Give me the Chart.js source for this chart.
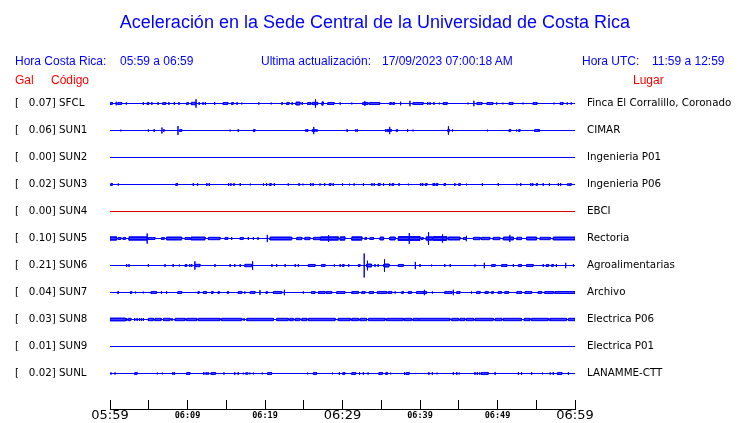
<!DOCTYPE html>
<html>
<head>
<meta charset="utf-8">
<script src="https://cdn.jsdelivr.net/npm/chart.js@4.4.0/dist/chart.umd.min.js"></script>
<style>
  body { margin: 0; background: #fff; }
  #page { position: relative; width: 740px; height: 423px; overflow: hidden; font-family: 'Liberation Sans', Arial, sans-serif; }
  #page canvas, .t { position: absolute; }
  .t { white-space: pre; font-size: 12px; line-height: 14px; color: #0000ff; }
  .red { color: #ff0000; }
  #title { font-size: 18px; line-height: 20px; left: 0; width: 750px; text-align: center; top: 12px; }
</style>
</head>
<body>
<div id="page">
  <canvas id="traces" width="740" height="423"></canvas>
  <canvas id="axis" width="740" height="33" style="top:390px;left:0"></canvas>
  <div class="t" id="title">Aceleración en la Sede Central de la Universidad de Costa Rica</div>
  <div class="t" style="left:15px;top:54px">Hora Costa Rica:</div>
  <div class="t" style="left:120px;top:54px">05:59 a 06:59</div>
  <div class="t" style="left:261px;top:54px">Ultima actualización:</div>
  <div class="t" style="left:382px;top:54px">17/09/2023 07:00:18 AM</div>
  <div class="t" style="left:582px;top:54px">Hora UTC:</div>
  <div class="t" style="left:652px;top:54px">11:59 a 12:59</div>
  <div class="t red" style="left:15px;top:73px">Gal</div>
  <div class="t red" style="left:51px;top:73px">Código</div>
  <div class="t red" style="left:633px;top:73px">Lugar</div>
</div>
<script>
// estaciones, de arriba hacia abajo
const CODES = ['SFCL', 'SUN1', 'SUN2', 'SUN3', 'SUN4', 'SUN5', 'SUN6', 'SUN7', 'SUN8', 'SUN9', 'SUNL'];
const GAL = [0.07, 0.06, 0.00, 0.02, 0.00, 0.10, 0.21, 0.04, 0.03, 0.01, 0.02];
const PLACES = ['Finca El Corralillo, Coronado', 'CIMAR', 'Ingenieria P01', 'Ingenieria P06', 'EBCI',
  'Rectoria', 'Agroalimentarias', 'Archivo', 'Electrica P06', 'Electrica P01', 'LANAMME-CTT'];
const TICK_LABELS = ['05:59', '', '06:09', '', '06:19', '', '06:29', '', '06:39', '', '06:49', '', '06:59'];

// episodios de vibracion: [minuto inicio, minuto fin, amplitud en Gal]
const SFCL_EV = [[0,0.3,.017],[0.8,0.8,.03],[1.0,1.5,.017],[2.1,2.1,.02],[4.3,4.3,.025],[4.8,5.0,.017],[5.4,5.4,.025],
  [6.2,6.2,.025],[6.8,7.2,.015],[7.6,7.6,.025],[8.3,8.3,.025],[8.9,8.9,.025],[9.9,10.1,.017],[10.5,11.05,.02],[11.1,11.1,.07],
  [11.5,11.5,.025],[12.0,12.0,.025],[12.3,12.3,.025],[13.5,13.5,.025],[14.6,15.2,.017],[15.7,15.9,.017],[16.4,16.4,.025],
  [17.0,17.0,.015],[19.2,19.2,.02],[20.8,20.8,.015],[22.2,22.2,.025],[22.8,23.1,.017],[23.5,23.5,.025],[24.0,24.5,.025],
  [24.8,24.8,.025],[25.5,25.9,.017],[26.1,26.45,.02],[26.5,26.5,.07],[26.55,26.8,.02],[27.35,27.5,.028],[28.1,28.9,.017],
  [29.7,29.7,.02],[31.2,31.2,.015],[32.6,32.85,.017],[32.9,32.9,.04],[32.95,33.3,.017],[33.5,34.8,.017],[36.1,36.3,.017],
  [36.5,36.7,.017],[37.5,37.5,.03],[38.7,38.7,.045],[39.1,40.4,.017],[41.0,41.0,.025],[41.3,41.3,.025],[41.8,41.8,.025],
  [42.5,42.5,.015],[43.0,43.5,.017],[46.2,46.2,.015],[46.95,46.95,.045],[47.35,48.0,.017],[48.65,49.4,.017],[49.9,49.9,.02],
  [50.7,50.7,.015],[51.5,52.0,.017],[53.3,53.3,.015],[54.6,55.1,.017],[57.3,57.3,.015],[58.1,58.45,.017],[59.0,59.0,.02],
  [59.5,59.5,.02]];
const SUN1_EV = [[1.4,1.4,.015],[4.95,4.95,.02],[5.7,5.7,.025],[6.7,6.7,.05],[6.9,7.0,.015],[8.77,8.77,.075],[9.0,9.25,.017],
  [15.5,15.5,.015],[16.55,16.55,.025],[18.5,18.7,.017],[25.3,25.3,.025],[25.5,25.5,.025],[26.1,26.25,.017],[26.3,26.3,.06],
  [26.35,26.5,.017],[26.7,26.7,.025],[30.6,30.6,.025],[31.7,31.7,.02],[31.9,31.9,.025],[35.6,35.6,.025],[35.8,35.8,.025],
  [35.9,36.05,.017],[36.1,36.1,.06],[36.15,36.3,.017],[36.95,37.1,.017],[38.4,38.4,.025],[39.1,39.1,.015],[43.5,43.6,.017],
  [43.65,43.65,.07],[43.7,43.8,.02],[44.2,44.2,.02],[48.7,48.7,.015],[51.5,51.7,.017],[52.4,52.5,.017],[52.75,52.9,.017],
  [54.8,55.3,.017],[55.4,55.4,.02]];
const SUN2_EV = [];
const SUN3_EV = [[0.1,0.3,.017],[1.07,1.07,.02],[8.5,8.7,.017],[10.75,10.75,.025],[11.3,11.3,.025],[12.5,12.5,.025],
  [12.8,12.8,.025],[15.3,15.3,.025],[15.6,15.6,.025],[16.0,16.0,.025],[16.8,16.8,.025],[18.1,18.1,.015],[19.8,19.8,.02],
  [20.2,20.2,.025],[20.6,20.8,.017],[21.2,21.2,.025],[23.0,23.0,.02],[24.4,24.4,.025],[24.9,24.9,.015],[25.9,25.9,.025],
  [26.2,26.2,.025],[27.1,27.1,.02],[27.7,27.7,.025],[28.3,28.5,.017],[28.8,28.8,.025],[30.0,30.0,.025],[30.9,30.9,.015],
  [31.5,31.5,.02],[32.7,32.7,.025],[33.8,33.8,.025],[34.1,34.1,.025],[34.6,34.85,.017],[35.3,35.3,.025],[36.1,36.1,.025],
  [36.4,36.6,.017],[37.3,37.3,.025],[38.5,38.5,.015],[40.1,40.1,.025],[40.35,40.35,.025],[40.7,40.9,.017],[41.7,41.7,.025],
  [41.9,41.9,.025],[42.1,42.3,.017],[43.1,43.3,.017],[44.5,44.5,.025],[45.0,45.2,.017],[46.0,46.0,.015],[48.05,48.05,.025],
  [50.1,50.1,.025],[52.5,52.5,.015],[53.0,53.0,.025],[54.3,54.3,.025],[54.55,54.55,.025],[55.0,55.15,.017],[55.9,55.9,.025],
  [56.7,56.7,.025],[57.85,57.85,.025],[58.15,58.15,.025],[59.1,59.1,.025],[59.3,59.5,.017]];
const SUN4_EV = [];
const SUN5_EV = [[0,0.85,.028],[1.05,1.4,.017],[1.7,2.0,.017],[2.45,4.75,.028],[4.8,4.8,.085],[4.95,5.8,.017],[6.65,7.0,.017],
  [7.3,9.25,.025],[9.7,10.3,.017],[10.45,12.25,.025],[12.7,14.2,.02],[14.85,15.2,.017],[15.7,15.7,.025],[16.8,17.2,.017],
  [17.85,17.85,.025],[18.5,18.5,.025],[19.1,19.1,.025],[20.3,20.3,.06],[20.65,23.45,.025],[24.1,24.75,.02],[25.15,25.8,.02],
  [26.25,27.1,.02],[27.2,28.15,.028],[28.2,28.2,.055],[28.25,29.45,.028],[29.7,30.3,.028],[31.2,32.5,.028],[32.9,33.1,.017],
  [33.55,34.0,.017],[34.85,35.3,.025],[36.1,36.8,.025],[37.2,38.55,.032],[38.6,38.6,.09],[38.65,40.0,.032],[40.2,40.4,.017],
  [40.8,41.05,.028],[41.1,41.1,.105],[41.15,41.6,.028],[41.7,42.85,.032],[42.9,42.9,.07],[42.95,43.45,.032],[43.65,45.15,.025],
  [45.6,45.95,.017],[46.0,46.0,.045],[46.9,47.75,.02],[47.95,49.0,.02],[49.45,50.3,.02],[50.75,51.55,.025],[51.6,51.6,.06],
  [51.65,52.05,.025],[52.5,53.1,.02],[53.75,55.05,.025],[55.5,56.8,.02],[57.2,60,.025]];
const SUN6_EV = [[2.15,2.15,.025],[2.45,2.45,.025],[4.95,4.95,.025],[7.1,7.1,.025],[8.15,8.15,.025],[8.95,8.95,.015],
  [9.7,9.9,.017],[10.3,10.3,.025],[10.55,10.55,.025],[10.95,10.95,.07],[11.0,11.6,.02],[13.55,13.55,.025],[15.5,15.5,.025],
  [16.1,16.1,.025],[16.8,16.8,.025],[17.4,18.3,.02],[18.4,18.4,.07],[20.9,20.9,.025],[21.5,21.5,.025],[22.6,22.6,.025],
  [23.9,23.9,.025],[24.3,24.3,.025],[25.6,26.45,.017],[27.3,27.75,.017],[28.95,28.95,.02],[29.7,29.7,.025],[30.0,30.2,.017],
  [30.8,30.8,.025],[32.05,32.25,.017],[32.8,32.8,.2],[33.05,33.15,.025],[33.2,33.2,.08],[33.25,33.75,.025],[34.2,34.2,.025],
  [34.6,34.6,.025],[35.3,35.35,.025],[35.4,35.4,.105],[35.45,36.0,.025],[37.2,37.85,.017],[39.4,39.4,.06],[40.0,40.0,.025],
  [41.5,41.5,.015],[43.2,43.2,.025],[43.9,43.9,.025],[47.1,47.1,.02],[48.3,48.3,.045],[49.25,49.7,.017],[50.55,51.2,.017],
  [52.05,52.05,.025],[52.7,53.1,.017],[53.75,54.6,.017],[55.9,55.9,.025],[56.3,56.6,.017],[57.0,57.2,.017],[57.6,57.6,.025],
  [58.8,58.8,.045],[59.8,59.8,.025]];
const SUN7_EV = [[1.0,1.1,.017],[2.65,2.8,.017],[3.3,3.3,.015],[4.3,4.3,.015],[5.3,6.0,.017],[6.65,6.65,.025],[7.3,7.3,.025],
  [8.75,9.25,.017],[11.35,11.5,.017],[12.05,12.45,.017],[13.1,13.3,.017],[13.95,14.1,.017],[15.15,15.3,.017],[16.55,17.0,.017],
  [17.4,17.4,.02],[18.1,18.7,.017],[19.35,19.35,.04],[20.15,20.3,.017],[21.1,22.15,.017],[22.5,22.5,.045],[24.95,24.95,.02],
  [26.0,26.45,.017],[26.9,27.75,.017],[27.95,28.6,.017],[29.25,30.3,.017],[31.2,32.05,.017],[32.5,32.9,.017],[33.45,34.0,.017],
  [34.5,35.7,.017],[35.9,36.35,.017],[36.8,36.8,.02],[37.65,37.85,.017],[38.5,38.9,.017],[39.55,40.5,.017],[40.55,40.55,.045],
  [40.6,40.85,.017],[41.6,41.6,.02],[43.2,44.1,.017],[44.3,44.3,.045],[44.75,45.15,.017],[46.65,46.65,.02],[47.3,47.75,.017],
  [48.4,48.8,.017],[49.25,49.45,.017],[50.1,50.5,.017],[50.95,51.4,.017],[52.5,53.1,.017],[53.55,54.4,.017],[55.25,55.7,.017],
  [56.1,57.2,.017],[57.4,60,.017]];
const SUN8_EV = [[0,2.0,.024],[2.15,2.15,.025],[2.35,2.7,.02],[3.2,3.2,.025],[3.5,3.5,.025],[3.8,3.8,.025],[4.05,4.05,.025],
  [4.3,4.3,.025],[4.95,5.6,.02],[5.8,6.6,.02],[6.9,7.75,.02],[8.0,8.0,.025],[8.4,9.7,.02],[9.9,11.2,.02],[11.4,14.2,.02],
  [14.4,17.0,.02],[17.3,17.3,.025],[17.65,21.1,.02],[21.5,23.0,.02],[23.2,23.65,.02],[23.9,24.5,.02],[24.75,25.4,.02],
  [25.6,29.05,.02],[29.45,31.0,.02],[31.2,32.05,.02],[32.25,33.1,.02],[33.35,35.5,.02],[35.7,37.85,.02],[38.0,38.9,.02],
  [39.1,39.8,.02],[39.85,43.85,.02],[44.1,44.95,.02],[45.15,45.8,.02],[46.0,46.9,.02],[47.1,49.45,.02],[49.7,50.55,.02],
  [50.75,53.1,.02],[53.45,54.2,.02],[54.4,56.55,.02],[56.75,58.9,.02],[59.15,60,.02]];
const SUN9_EV = [];
const SUNL_EV = [[0.13,0.13,.02],[0.65,0.65,.02],[3.2,3.5,.017],[6.1,6.1,.015],[6.75,6.75,.015],[8.1,8.1,.025],[8.3,8.3,.025],
  [9.9,10.3,.017],[12.1,12.1,.025],[12.4,12.4,.025],[12.65,12.65,.025],[13.05,13.6,.017],[14.7,14.7,.02],[16.1,16.1,.025],
  [16.55,16.55,.025],[17.2,17.2,.015],[17.5,17.8,.012],[18.05,18.05,.015],[18.5,18.5,.015],[19.65,19.65,.015],[20.35,20.85,.017],
  [25.5,25.5,.015],[26.25,26.65,.017],[28.7,28.7,.015],[29.6,29.6,.025],[30.05,30.3,.017],[31.2,31.7,.017],[32.2,32.2,.025],
  [32.7,32.7,.025],[33.3,33.3,.02],[34.7,35.15,.017],[35.6,35.8,.017],[36.2,36.2,.015],[38.0,38.0,.025],[38.2,38.6,.017],
  [39.45,39.45,.01],[41.15,41.15,.025],[41.6,41.6,.025],[42.2,42.2,.015],[44.3,44.3,.025],[44.75,44.75,.025],[45.05,45.05,.015],
  [47.1,47.1,.025],[47.4,47.4,.025],[47.7,47.7,.02],[47.9,48.8,.017],[49.7,49.7,.025],[52.7,52.7,.025],[53.1,53.1,.025],
  [54.4,54.4,.025],[55.8,55.8,.015],[56.8,56.8,.02],[57.2,57.2,.025],[57.75,58.3,.017],[59.15,59.15,.025]];

const EVENTS = [SFCL_EV, SUN1_EV, SUN2_EV, SUN3_EV, SUN4_EV, SUN5_EV, SUN6_EV, SUN7_EV, SUN8_EV, SUN9_EV, SUNL_EV];
const COLORS = CODES.map(c => c === 'SUN4' ? '#e00000' : '#0000ff');

const ROW = 0.45;   // separacion entre trazas, en Gal
const MARGIN = 0.25;
const base = i => -i * ROW;

// contorno superior (sign=1) o inferior (sign=-1) de una traza
function envelope(events, b, sign) {
  const pts = [{ x: 0, y: b }];
  events.slice().sort((p, q) => p[0] - q[0]).forEach(([t0, t1, a]) => {
    pts.push({ x: t0, y: b }, { x: t0, y: b + sign * a }, { x: t1, y: b + sign * a }, { x: t1, y: b });
  });
  pts.push({ x: 60, y: b });
  return pts;
}

const datasets = [];
EVENTS.forEach((ev, i) => {
  [1, -1].forEach(sign => {
    datasets.push({
      data: envelope(ev, base(i), sign),
      borderColor: COLORS[i],
      backgroundColor: COLORS[i],
      borderWidth: 1,
      pointRadius: 0,
      tension: 0,
      fill: { value: base(i) }
    });
  });
});

const rowTicks = s => { s.ticks = CODES.map((c, i) => ({ value: base(i) })); };
const labelFont = { family: 'DejaVu Sans', size: 10.3 };

new Chart(document.getElementById('traces'), {
  type: 'line',
  data: { datasets },
  options: {
    responsive: false,
    animation: false,
    events: [],
    layout: { padding: { left: 15, right: 0, top: 88.5, bottom: 34.5 } },
    plugins: { legend: { display: false }, tooltip: { enabled: false } },
    scales: {
      x: { type: 'linear', min: 0, max: 60, display: false },
      y: {
        position: 'left',
        min: base(CODES.length - 1) - MARGIN,
        max: MARGIN,
        afterBuildTicks: rowTicks,
        afterFit: s => { s.width = 95; },
        grid: { display: false, drawTicks: false },
        border: { display: false },
        ticks: {
          autoSkip: false, crossAlign: 'far', color: '#000', font: labelFont,
          callback: (v, i) => '[   ' + GAL[i].toFixed(2) + '] ' + CODES[i]
        }
      },
      y2: {
        position: 'right',
        min: base(CODES.length - 1) - MARGIN,
        max: MARGIN,
        afterBuildTicks: rowTicks,
        afterFit: s => { s.width = 165; },
        grid: { display: false, drawTicks: false },
        border: { display: false },
        ticks: {
          autoSkip: false, padding: 12, color: '#000', font: labelFont,
          callback: (v, i) => PLACES[i]
        }
      }
    }
  }
});

// eje de tiempo
new Chart(document.getElementById('axis'), {
  type: 'line',
  data: { datasets: [] },
  options: {
    responsive: false,
    animation: false,
    events: [],
    layout: { padding: { left: 110, right: 165, top: 10, bottom: 0 } },
    plugins: { legend: { display: false }, tooltip: { enabled: false } },
    scales: {
      x: {
        type: 'linear', min: 0, max: 60,
        afterBuildTicks: s => { s.ticks = TICK_LABELS.map((l, i) => ({ value: i * 5 })); },
        afterFit: s => { s.height = 14; },
        grid: { color: '#000', lineWidth: 1, drawTicks: false, drawOnChartArea: true },
        border: { display: true, color: '#000', width: 1 },
        ticks: {
          autoSkip: false, maxRotation: 0, padding: 0, color: '#000',
          callback: (v, i) => TICK_LABELS[i],
          font: ctx => ctx.index % 6 === 0
            ? { family: 'DejaVu Sans', size: 13, lineHeight: '14px' }
            : { family: 'DejaVu Sans Mono', size: 8.5, weight: 'bold', lineHeight: '14px' }
        }
      },
      y: { display: false, min: 0, max: 1 }
    }
  }
});
</script>
</body>
</html>
